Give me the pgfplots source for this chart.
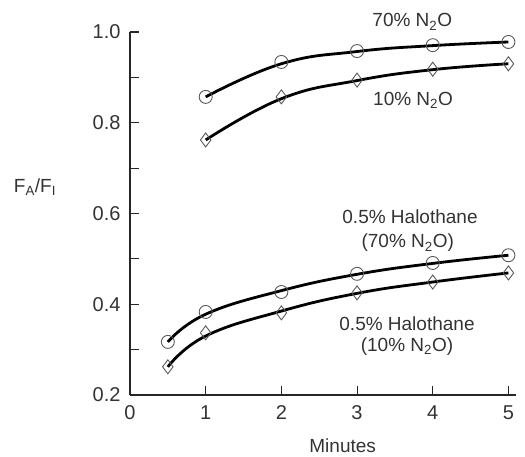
\documentclass[border=0pt]{standalone}
\usepackage{pgfplots}
\pgfplotsset{compat=1.18}
\usepackage{fontspec}
\setmainfont{Liberation Sans}
\begin{document}
\fontsize{19}{22}\selectfont
\begin{tikzpicture}[x=1pt,y=1pt]
\path[use as bounding box] (-130,-62) rectangle (395,395);
\begin{axis}[
  scale only axis, width=386pt, height=363pt,
  xmin=0, xmax=5.1, ymin=0.2, ymax=1.0,
  axis x line*=bottom, axis y line*=left,
  axis line style={line width=1.2pt, black!85, -},
  xtick={0,1,2,3,4,5}, ytick={0.2,0.4,0.6,0.8,1.0},
  minor ytick={0.3,0.5,0.7,0.9},
  tick align=inside, major tick length=9pt, minor tick length=9pt,
  every tick/.style={line width=1.1pt, black!85},
  tick label style={font=\fontsize{20}{23}\selectfont, black!80},
  /pgf/number format/assume math mode=true,
  xticklabel style={yshift=-4pt},
  yticklabel style={xshift=-3pt},
  y tick label style={/pgf/number format/fixed, /pgf/number format/fixed zerofill, /pgf/number format/precision=1},
  clip=false,
]
\addplot[line width=2.8pt, smooth, tension=0.75] coordinates {(1,0.857) (2,0.930) (3,0.957) (4,0.970) (5,0.978)};
\addplot[line width=2.8pt, smooth, tension=0.75] coordinates {(1,0.762) (2,0.853) (3,0.893) (4,0.917) (5,0.930)};
\addplot[line width=2.8pt, smooth, tension=0.75] coordinates {(0.5,0.317) (1,0.378) (2,0.430) (3,0.466) (4,0.490) (5,0.508)};
\addplot[line width=2.8pt, smooth, tension=0.75] coordinates {(0.5,0.262) (1,0.330) (2,0.385) (3,0.424) (4,0.449) (5,0.469)};
\addplot[only marks, mark=o, mark size=6.5pt, mark options={black!65, line width=0.9pt}] coordinates {(1,0.857) (2,0.934) (3,0.958) (4,0.971) (5,0.978) (0.5,0.317) (1,0.383) (2,0.427) (3,0.467) (4,0.491) (5,0.508)};
\addplot[only marks, mark=diamond, mark size=7pt, mark options={black!65, line width=0.9pt}] coordinates {(1,0.762) (2,0.857) (3,0.894) (4,0.918) (5,0.930) (0.5,0.262) (1,0.337) (2,0.381) (3,0.425) (4,0.449) (5,0.469)};
\node[black!80] at (axis cs:3.73,1.022) {70\% N\textsubscript{2}O};
\node[black!80] at (axis cs:3.74,0.850) {10\% N\textsubscript{2}O};
\node[black!80] at (axis cs:3.70,0.592) {0.5\% Halothane};
\node[black!80] at (axis cs:3.67,0.535) {(70\% N\textsubscript{2}O)};
\node[black!80] at (axis cs:3.66,0.357) {0.5\% Halothane};
\node[black!80] at (axis cs:3.66,0.307) {(10\% N\textsubscript{2}O)};
\node[black!80] at (axis cs:2.81,0.088) {Minutes};
\node[black!80] at (axis cs:-1.255,0.658) {F\textsubscript{A}/F\textsubscript{I}};
\end{axis}
\end{tikzpicture}
\end{document}
